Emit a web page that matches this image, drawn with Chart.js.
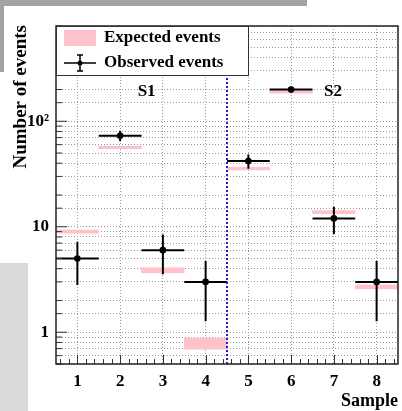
<!DOCTYPE html>
<html>
<head>
<meta charset="utf-8">
<script src="https://cdn.jsdelivr.net/npm/chart.js@4"></script>
<style>
html, body { margin: 0; padding: 0; background: #fff; }
#wrap { position: relative; width: 402px; height: 411px; overflow: hidden; }
.shade { position: absolute; }
canvas { position: absolute; left: 0; top: 0; }
</style>
</head>
<body>
<div id="wrap">
  <div class="shade" style="left:0;top:0;width:307px;height:6px;background:#a3a3a3"></div>
  <div class="shade" style="left:0;top:0;width:4px;height:72px;background:#a3a3a3"></div>
  <div class="shade" style="left:0;top:263px;width:28px;height:148px;background:#d9d9d9"></div>
  <canvas id="chart" width="402" height="411"></canvas>
</div>
<script>
// samples on the x axis
const samples = [1, 2, 3, 4, 5, 6, 7, 8];
// expected events (band low / high)
const expLow  = [8.7, 55, 3.65, 0.69, 34.5, 185, 13.3, 2.58];
const expHigh = [9.3, 58, 4.07, 0.88, 36.5, 198, 14.2, 2.82];
// observed events with error bars
const observed = [5, 73, 6, 3, 42, 200, 12, 3];
const obsLow   = [2.8, 64.5, 3.55, 1.27, 35.5, 186, 8.5, 1.27];
const obsHigh  = [7.2, 81.5, 8.45, 4.73, 48.5, 214, 15.5, 4.73];
// region labels
const regions = ['S1', 'S2'];
const regionX = [2.62, 6.98];
const regionY = [190, 190];
const splitAt = 4.5;

const serif = "'Liberation Serif', 'DejaVu Serif', serif";
const pink = '#ffc2cb';

const decor = {
  id: 'decor',
  afterDatasetsDraw(chart) {
    const ctx = chart.ctx, a = chart.chartArea;
    const x = chart.scales.x, y = chart.scales.y;
    ctx.save();

    // observed error bars
    ctx.strokeStyle = '#000';
    ctx.lineWidth = 2;
    samples.forEach((s, i) => {
      const px = x.getPixelForValue(s), py = y.getPixelForValue(observed[i]);
      ctx.beginPath();
      ctx.moveTo(x.getPixelForValue(s - 0.5), py);
      ctx.lineTo(x.getPixelForValue(s + 0.5), py);
      ctx.moveTo(px, y.getPixelForValue(obsHigh[i]));
      ctx.lineTo(px, y.getPixelForValue(obsLow[i]));
      ctx.stroke();
    });

    // split line
    ctx.strokeStyle = '#1c1ccc';
    ctx.lineWidth = 2;
    ctx.setLineDash([2, 2]);
    const sx = x.getPixelForValue(splitAt);
    ctx.beginPath();
    ctx.moveTo(sx, a.top);
    ctx.lineTo(sx, a.bottom);
    ctx.stroke();
    ctx.setLineDash([]);

    // inside ticks
    ctx.strokeStyle = '#333';
    ctx.lineWidth = 1;
    ctx.beginPath();
    y.ticks.forEach(t => {
      const py = y.getPixelForValue(t.value);
      const major = Math.abs(Math.log10(t.value) - Math.round(Math.log10(t.value))) < 1e-6;
      ctx.moveTo(a.left, py);
      ctx.lineTo(a.left + (major ? 11 : 6), py);
    });
    for (let v = 0.6; v < 8.45; v += 0.2) {
      const major = Math.abs(v - Math.round(v)) < 1e-6;
      const px = Math.round(x.getPixelForValue(v)) + 0.5;
      ctx.moveTo(px, a.bottom);
      ctx.lineTo(px, a.bottom - (major ? 9 : 5));
    }
    ctx.stroke();

    // frame
    ctx.strokeStyle = '#222';
    ctx.lineWidth = 1.5;
    ctx.strokeRect(a.left, a.top, a.right - a.left, a.bottom - a.top);

    // region labels
    ctx.fillStyle = '#000';
    ctx.font = 'bold 17px ' + serif;
    ctx.textAlign = 'center';
    ctx.textBaseline = 'middle';
    regions.forEach((r, i) => {
      ctx.fillText(r, x.getPixelForValue(regionX[i]), y.getPixelForValue(regionY[i]));
    });

    // legend
    const lx = a.left, ly = a.top, lw = 192, lh = 49;
    ctx.fillStyle = '#fff';
    ctx.fillRect(lx, ly, lw, lh);
    ctx.strokeStyle = '#333';
    ctx.lineWidth = 1;
    ctx.strokeRect(lx + 0.5, ly + 0.5, lw, lh);
    ctx.fillStyle = pink;
    ctx.fillRect(lx + 8, ly + 4, 32, 16);
    ctx.strokeStyle = '#000';
    ctx.lineWidth = 1.5;
    ctx.beginPath();
    ctx.moveTo(lx + 8, ly + 37); ctx.lineTo(lx + 40, ly + 37);
    ctx.moveTo(lx + 24, ly + 29); ctx.lineTo(lx + 24, ly + 45);
    ctx.moveTo(lx + 21, ly + 29); ctx.lineTo(lx + 27, ly + 29);
    ctx.moveTo(lx + 21, ly + 45); ctx.lineTo(lx + 27, ly + 45);
    ctx.stroke();
    ctx.fillStyle = '#000';
    ctx.beginPath();
    ctx.arc(lx + 24, ly + 37, 2.5, 0, Math.PI * 2);
    ctx.fill();
    ctx.font = 'bold 17px ' + serif;
    ctx.textAlign = 'left';
    ctx.fillText('Expected events', lx + 48, ly + 12);
    ctx.fillText('Observed events', lx + 48, ly + 37);

    // axis titles
    ctx.font = 'bold 18px ' + serif;
    ctx.textAlign = 'right';
    ctx.fillText('Sample', a.right, 401);
    ctx.font = 'bold 19px ' + serif;
    ctx.translate(21, a.top - 1);
    ctx.rotate(-Math.PI / 2);
    ctx.fillText('Number of events', 0, 0);
    ctx.restore();
  }
};

new Chart(document.getElementById('chart'), {
  data: {
    datasets: [
      {
        type: 'line',
        label: 'Observed events',
        data: samples.map((s, i) => ({ x: s, y: observed[i] })),
        showLine: false,
        pointRadius: 3.3,
        pointBackgroundColor: '#000',
        pointBorderWidth: 0,
        order: 1
      },
      {
        type: 'bar',
        label: 'Expected events',
        data: samples.map((s, i) => ({ x: s, y: [expLow[i], expHigh[i]] })),
        backgroundColor: pink,
        barPercentage: 1,
        categoryPercentage: 1,
        order: 2
      }
    ]
  },
  options: {
    responsive: false,
    animation: false,
    layout: { padding: { left: 0, top: 26, right: 3, bottom: 0 } },
    plugins: { legend: { display: false }, tooltip: { enabled: false } },
    scales: {
      x: {
        type: 'linear',
        min: 0.5,
        max: 8.5,
        offset: false,
        afterBuildTicks: s => { s.ticks = samples.map(v => ({ value: v })); },
        afterFit: s => { s.height = 47; },
        grid: { color: '#9a9a9a', drawTicks: false, offset: false },
        border: { display: false, dash: [1, 2] },
        ticks: { color: '#000', padding: 7, font: { family: serif, size: 17, weight: 'bold' } }
      },
      y: {
        type: 'logarithmic',
        min: 0.5,
        max: 800,
        afterFit: s => { s.width = 56; },
        grid: { color: '#9a9a9a', drawTicks: false },
        border: { display: false, dash: [1, 2] },
        ticks: {
          autoSkip: false,
          color: '#000',
          padding: 7,
          font: { family: serif, size: 17, weight: 'bold' },
          callback: v => v === 1 ? '1' : v === 10 ? '10' : v === 100 ? '10²' : ''
        }
      }
    }
  },
  plugins: [decor]
});
</script>
</body>
</html>
